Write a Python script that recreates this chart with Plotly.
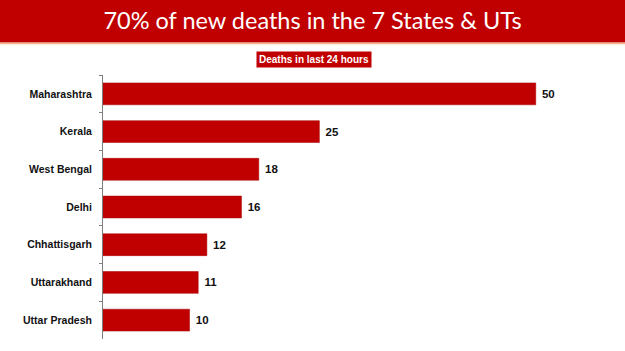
import plotly.graph_objects as go

states = ["Maharashtra", "Kerala", "West Bengal", "Delhi", "Chhattisgarh", "Uttarakhand", "Uttar Pradesh"]
deaths = [50, 25, 18, 16, 12, 11, 10]

title_text = "70% of new deaths in the 7 States & UTs"
subtitle_text = "Deaths in last 24 hours"

W, H = 625, 351
ML, MR, MT, MB = 103, 20, 75, 12
PW, PH = W - ML - MR, H - MT - MB
RED = "#C00000"


def px_x(x):
    return (x - ML) / PW


def px_y(y):
    return (H - MB - y) / PH


fig = go.Figure(
    go.Bar(
        x=deaths,
        y=states,
        orientation="h",
        marker=dict(color=RED, line=dict(color="#A80000", width=0.5)),
        width=0.58,
        text=[f" {v}" for v in deaths],
        textposition="outside",
        textfont=dict(family="Liberation Sans", size=11.5, color="#111111", weight="bold"),
        cliponaxis=False,
    )
)

fig.update_layout(
    width=W,
    height=H,
    margin=dict(l=ML, r=MR, t=MT, b=MB),
    paper_bgcolor="white",
    plot_bgcolor="white",
    showlegend=False,
    xaxis=dict(range=[0, 58], visible=False, fixedrange=True),
    yaxis=dict(
        autorange="reversed",
        showline=True,
        linecolor="#7f7f7f",
        linewidth=1,
        ticks="outside",
        ticklen=3,
        tickcolor="#7f7f7f",
        tickson="boundaries",
        ticklabelstandoff=8,
        showgrid=False,
        tickfont=dict(family="Liberation Sans", size=10.5, color="#111111", weight="bold"),
    ),
    title=dict(
        text=title_text,
        x=0.5,
        xref="container",
        y=1 - 21 / H,
        yref="container",
        xanchor="center",
        yanchor="middle",
        font=dict(family="Lato", size=23.5, color="white"),
    ),
    shapes=[
        dict(type="rect", xref="paper", yref="paper",
             x0=px_x(0), x1=px_x(W), y0=px_y(42.5), y1=px_y(0),
             fillcolor=RED, line=dict(width=0), layer="below"),
        dict(type="line", xref="paper", yref="paper",
             x0=px_x(0), x1=px_x(W), y0=px_y(43.5), y1=px_y(43.5),
             line=dict(color="#F4B183", width=1.5)),
    ],
    annotations=[
        dict(text="<b>" + subtitle_text + "</b>", xref="paper", yref="paper",
             x=px_x(314), y=px_y(60), xanchor="center", yanchor="middle",
             showarrow=False, bgcolor=RED, borderpad=2,
             font=dict(family="Liberation Sans", size=10, color="white")),
    ],
)

fig.write_html("out.html")
